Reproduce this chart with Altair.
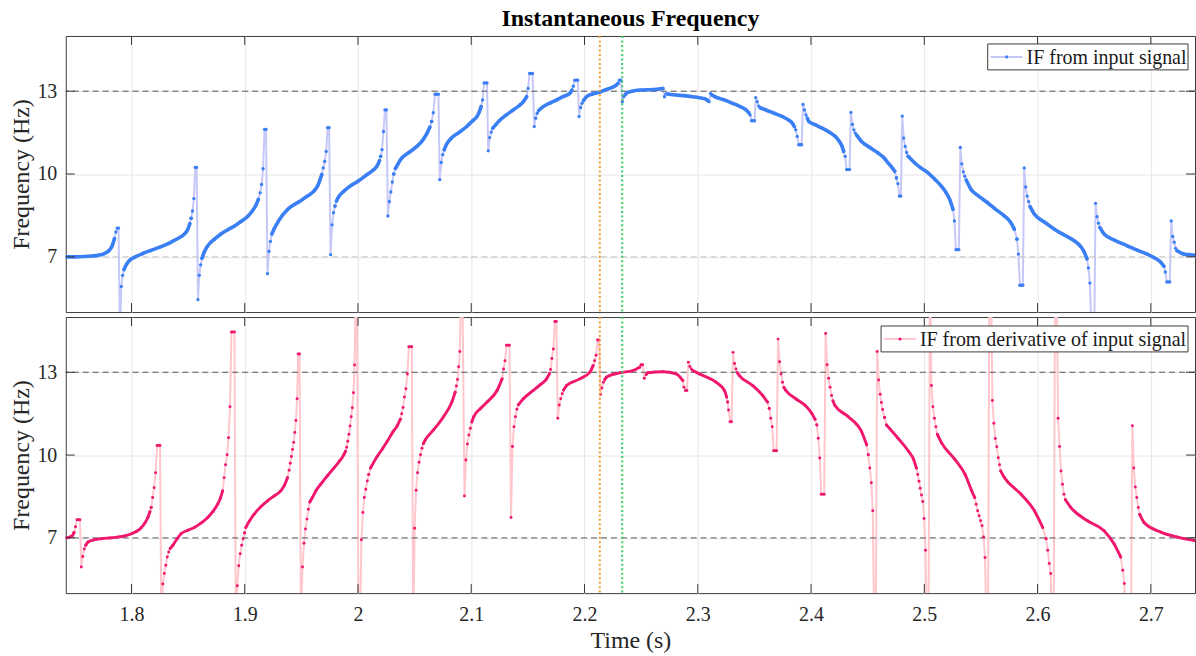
import altair as alt
import pandas as pd

SERIF = "Liberation Serif"
W, H = 1133, 277
T_DOMAIN = [1.742, 2.739]
F_DOMAIN = [5, 15]

time_ticks = [1.8, 1.9, 2.0, 2.1, 2.2, 2.3, 2.4, 2.5, 2.6, 2.7]
freq_ticks = [7, 10, 13]
marker_times = [2.2135, 2.2333]

# IF from the input signal: smooth stretches between wraps (bodies) and the
# individual samples across each wrap (jumps), as (time s, frequency Hz)
top_bodies = [
    [(1.742, 7.00), (1.750, 7.00), (1.758, 7.01), (1.765, 7.03), (1.771, 7.06), (1.776, 7.12), (1.780, 7.22), (1.783, 7.40), (1.785, 7.66)],
    [(1.7934, 6.54), (1.7955, 6.72), (1.798, 6.86), (1.803, 6.99), (1.810, 7.12), (1.817, 7.23), (1.825, 7.35), (1.832, 7.47), (1.838, 7.60), (1.844, 7.74), (1.848, 7.88), (1.850, 8.02), (1.8515, 8.20), (1.8527, 8.40)],
    [(1.8623, 6.95), (1.864, 7.15), (1.867, 7.38), (1.873, 7.63), (1.879, 7.83), (1.885, 7.98), (1.891, 8.12), (1.897, 8.29), (1.903, 8.48), (1.907, 8.68), (1.910, 8.88), (1.912, 9.08)],
    [(1.924, 7.83), (1.926, 8.02), (1.930, 8.31), (1.938, 8.72), (1.949, 9.02), (1.956, 9.22), (1.961, 9.38), (1.9645, 9.58), (1.9665, 9.80), (1.968, 9.98)],
    [(1.9797, 8.84), (1.981, 9.02), (1.983, 9.18), (1.987, 9.36), (1.993, 9.56), (2.000, 9.74), (2.008, 9.98), (2.014, 10.16), (2.017, 10.30), (2.019, 10.48), (2.020, 10.64)],
    [(2.0316, 10.00), (2.033, 10.20), (2.0355, 10.38), (2.0375, 10.52), (2.045, 10.78), (2.052, 11.00), (2.057, 11.22), (2.061, 11.48), (2.0635, 11.70), (2.065, 11.90)],
    [(2.0761, 10.88), (2.078, 11.06), (2.081, 11.24), (2.089, 11.50), (2.096, 11.72), (2.101, 11.92), (2.105, 12.08), (2.107, 12.24), (2.1087, 12.44)],
    [(2.119, 11.66), (2.1215, 11.78), (2.125, 11.94), (2.131, 12.14), (2.137, 12.32), (2.143, 12.50), (2.146, 12.62), (2.1489, 12.80)],
    [(2.1595, 12.30), (2.1635, 12.44), (2.170, 12.58), (2.1753, 12.68), (2.181, 12.80), (2.187, 12.92), (2.1888, 13.04)],
    [(2.1991, 12.66), (2.2017, 12.80), (2.207, 12.90), (2.2134, 12.97), (2.219, 13.06), (2.2251, 13.15), (2.228, 13.22), (2.2295, 13.28)],
    [(2.236, 12.88), (2.2375, 12.94), (2.242, 13.00), (2.2487, 13.04), (2.2604, 13.06), (2.266, 13.08), (2.2692, 13.10)],
    [(2.2735, 12.90), (2.281, 12.86), (2.288, 12.84), (2.2956, 12.80), (2.3044, 12.74), (2.3075, 12.70), (2.3088, 12.66)],
    [(2.3126, 12.86), (2.315, 12.80), (2.3191, 12.74), (2.325, 12.66), (2.3308, 12.56), (2.337, 12.45), (2.3426, 12.32), (2.345, 12.22)],
    [(2.3551, 12.40), (2.3602, 12.32), (2.3675, 12.20), (2.3748, 12.08), (2.380, 11.96), (2.3836, 11.84), (2.3852, 11.72)],
    [(2.3968, 12.02), (2.398, 11.90), (2.404, 11.78), (2.4098, 11.66), (2.416, 11.52), (2.4215, 11.36), (2.425, 11.18), (2.4274, 11.00), (2.4288, 10.82)],
    [(2.4404, 11.40), (2.4446, 11.18), (2.452, 10.96), (2.4592, 10.76), (2.465, 10.56), (2.468, 10.40), (2.471, 10.26), (2.4739, 10.10), (2.4754, 9.86)],
    [(2.4857, 10.64), (2.4916, 10.40), (2.497, 10.22), (2.5033, 10.04), (2.509, 9.82), (2.5151, 9.56), (2.519, 9.34), (2.5224, 9.08), (2.5253, 8.72)],
    [(2.537, 9.78), (2.5413, 9.44), (2.548, 9.20), (2.5559, 8.96), (2.563, 8.72), (2.5707, 8.48), (2.576, 8.26), (2.5795, 8.00), (2.5818, 7.64)],
    [(2.5934, 8.82), (2.5973, 8.54), (2.606, 8.26), (2.6149, 8.00), (2.624, 7.78), (2.6325, 7.58), (2.638, 7.38), (2.6413, 7.17), (2.6436, 6.93)],
    [(2.6551, 8.06), (2.6587, 7.83), (2.668, 7.60), (2.6792, 7.40), (2.688, 7.24), (2.6968, 7.10), (2.703, 6.97), (2.7086, 6.81), (2.7115, 6.66)],
    [(2.7232, 7.22), (2.7291, 7.10), (2.733, 7.08), (2.739, 7.06)],
]
top_jumps = [
    [(1.7862, 7.90), (1.7874, 8.04), (1.7886, 8.04), (1.7898, 3.90), (1.7910, 5.93), (1.7922, 6.33)],
    [(1.8539, 8.66), (1.8551, 9.11), (1.8563, 10.24), (1.8575, 10.24), (1.8587, 5.45), (1.8599, 6.33), (1.8611, 6.71)],
    [(1.9136, 9.32), (1.9149, 9.62), (1.9162, 10.19), (1.9175, 11.62), (1.9188, 11.62), (1.9201, 6.39), (1.9214, 7.20), (1.9227, 7.56)],
    [(1.9693, 10.22), (1.9706, 10.46), (1.9719, 10.82), (1.9732, 11.68), (1.9745, 11.68), (1.9758, 7.08), (1.9771, 8.16), (1.9784, 8.60)],
    [(2.0212, 10.88), (2.0225, 11.54), (2.0238, 12.32), (2.0251, 12.32), (2.0264, 8.48), (2.0277, 9.00), (2.029, 9.35), (2.0303, 9.71)],
    [(2.0665, 12.22), (2.068, 12.89), (2.0695, 12.89), (2.071, 12.89), (2.0722, 9.80), (2.0735, 10.42), (2.0748, 10.70)],
    [(2.110, 12.68), (2.1113, 13.30), (2.1126, 13.30), (2.1139, 13.30), (2.115, 10.84), (2.1163, 11.32), (2.1176, 11.52)],
    [(2.1502, 13.10), (2.1515, 13.64), (2.1528, 13.64), (2.1541, 13.64), (2.1556, 11.72), (2.1569, 12.02), (2.1582, 12.20)],
    [(2.1901, 13.18), (2.1914, 13.40), (2.1927, 13.40), (2.194, 13.40), (2.1952, 12.08), (2.1965, 12.41), (2.1978, 12.56)],
    [(2.2308, 13.40), (2.2321, 13.40), (2.2334, 12.62), (2.2347, 12.80)],
    [(2.2706, 12.80), (2.2719, 12.90)],
    [(2.310, 12.62), (2.3113, 12.92)],
    [(2.3462, 12.14), (2.3475, 11.93), (2.3488, 11.93), (2.3501, 11.93), (2.3512, 12.77), (2.3525, 12.62), (2.3538, 12.46)],
    [(2.3865, 11.60), (2.3878, 11.36), (2.3891, 11.06), (2.3904, 11.06), (2.3917, 11.06), (2.3929, 12.52), (2.3942, 12.32), (2.3955, 12.14)],
    [(2.4301, 10.64), (2.4314, 10.16), (2.4327, 10.16), (2.434, 10.16), (2.4352, 12.23), (2.4365, 11.80), (2.4378, 11.60), (2.4391, 11.48)],
    [(2.4767, 9.65), (2.478, 9.20), (2.4793, 9.20), (2.4805, 12.10), (2.4818, 11.30), (2.4831, 11.00), (2.4844, 10.78)],
    [(2.5266, 8.30), (2.5279, 7.26), (2.5292, 7.26), (2.5305, 7.26), (2.5318, 10.96), (2.5331, 10.37), (2.5344, 10.08), (2.5357, 9.92)],
    [(2.5831, 7.10), (2.5844, 5.97), (2.5857, 5.97), (2.587, 5.97), (2.5882, 10.22), (2.5895, 9.53), (2.5908, 9.20), (2.5921, 9.00)],
    [(2.6449, 6.60), (2.6462, 6.05), (2.6475, 4.40), (2.6488, 4.40), (2.6501, 4.40), (2.6512, 8.94), (2.6525, 8.46), (2.6538, 8.22)],
    [(2.7128, 6.45), (2.7141, 6.09), (2.7154, 6.09), (2.7167, 6.09), (2.718, 8.30), (2.7193, 7.74), (2.7206, 7.53), (2.7219, 7.31)],
]

# IF from the derivative of the input signal
bot_bodies = [
    [(1.742, 7.00), (1.744, 7.01), (1.746, 7.04), (1.748, 7.09), (1.7493, 7.20)],
    [(1.7596, 6.73), (1.7617, 6.85), (1.767, 6.93), (1.7734, 6.97), (1.781, 7.00), (1.7881, 7.03), (1.795, 7.08), (1.800, 7.15), (1.805, 7.25), (1.8088, 7.38), (1.812, 7.55), (1.8145, 7.74), (1.8163, 7.95), (1.8174, 8.10)],
    [(1.8342, 6.62), (1.8365, 6.73), (1.840, 6.95), (1.8438, 7.15), (1.850, 7.28), (1.8555, 7.38), (1.862, 7.55), (1.8673, 7.74), (1.872, 7.96), (1.8761, 8.22), (1.8785, 8.44), (1.8805, 8.70)],
    [(1.8999, 7.18), (1.901, 7.38), (1.904, 7.60), (1.9083, 7.86), (1.914, 8.12), (1.9201, 8.34), (1.926, 8.52), (1.9318, 8.70), (1.935, 8.90), (1.9377, 9.18)],
    [(1.9575, 8.30), (1.9597, 8.46), (1.963, 8.72), (1.967, 8.94), (1.973, 9.25), (1.9787, 9.53), (1.984, 9.80), (1.9875, 10.01), (1.989, 10.14)],
    [(2.0095, 9.30), (2.011, 9.53), (2.0169, 9.95), (2.0215, 10.22), (2.0257, 10.49), (2.031, 10.85), (2.0345, 11.05), (2.0374, 11.30)],
    [(2.0578, 10.42), (2.0594, 10.55), (2.0667, 10.91), (2.0755, 11.39), (2.0829, 11.92), (2.0858, 12.28)],
    [(2.1005, 11.20), (2.1022, 11.39), (2.108, 11.68), (2.114, 11.92), (2.1228, 12.34), (2.1272, 12.76)],
    [(2.1416, 11.82), (2.146, 12.04), (2.1548, 12.34), (2.161, 12.55), (2.1665, 12.76), (2.169, 12.95)],
    [(2.1816, 12.36), (2.1842, 12.52), (2.1959, 12.76), (2.2047, 13.00), (2.2076, 13.24)],
    [(2.218, 12.74), (2.2193, 12.82), (2.231, 12.98), (2.2428, 13.06), (2.2487, 13.18)],
    [(2.2545, 12.92), (2.2559, 12.98), (2.2692, 13.02), (2.281, 12.94), (2.2868, 12.70)],
    [(2.2956, 13.06), (2.3014, 12.94), (2.3161, 12.64), (2.3235, 12.34), (2.3255, 12.10), (2.3264, 11.92)],
    [(2.335, 12.98), (2.3367, 12.88), (2.3484, 12.52), (2.3572, 12.16), (2.3615, 11.92), (2.3631, 11.69)],
    [(2.3761, 12.45), (2.3778, 12.34), (2.3865, 12.04), (2.3948, 11.80), (2.4007, 11.51), (2.4035, 11.30), (2.4051, 11.09)],
    [(2.4194, 11.96), (2.4211, 11.80), (2.4329, 11.39), (2.4446, 10.85), (2.4491, 10.37), (2.4505, 10.01)],
    [(2.4649, 11.36), (2.4666, 11.09), (2.4768, 10.61), (2.4862, 10.13), (2.4905, 9.85), (2.493, 9.53)],
    [(2.5115, 10.75), (2.5151, 10.45), (2.5268, 9.85), (2.536, 9.30), (2.5419, 8.70), (2.5445, 8.46)],
    [(2.5675, 9.42), (2.5708, 9.18), (2.5855, 8.58), (2.5972, 7.98), (2.6045, 7.38), (2.6075, 6.97)],
    [(2.6246, 8.38), (2.6294, 8.10), (2.644, 7.62), (2.6587, 7.26), (2.6675, 6.79), (2.6734, 6.31)],
    [(2.6902, 7.85), (2.694, 7.56), (2.7087, 7.21), (2.7233, 7.03), (2.739, 6.90)],
]
bot_jumps = [
    [(1.7506, 7.40), (1.7519, 7.66), (1.7532, 7.66), (1.7545, 7.66), (1.7557, 5.95), (1.757, 6.33), (1.7583, 6.60)],
    [(1.8187, 8.46), (1.820, 8.82), (1.8213, 9.36), (1.8226, 10.35), (1.8239, 10.35), (1.8252, 10.35), (1.8264, 3.80), (1.8277, 5.33), (1.829, 5.71), (1.8303, 6.01), (1.8316, 6.31), (1.8329, 6.49)],
    [(1.8818, 9.18), (1.8831, 9.65), (1.8844, 10.01), (1.8857, 10.63), (1.887, 11.75), (1.8883, 14.46), (1.8896, 14.46), (1.8909, 14.46), (1.8921, 3.80), (1.8934, 5.27), (1.8947, 5.99), (1.896, 6.43), (1.8973, 6.73), (1.8986, 6.97)],
    [(1.9392, 9.45), (1.9402, 9.70), (1.9412, 9.95), (1.9422, 10.20), (1.9432, 10.46), (1.9442, 10.82), (1.9452, 11.25), (1.9462, 12.04), (1.9472, 13.66), (1.9484, 13.66), (1.9496, 3.80), (1.951, 5.95), (1.9523, 6.81), (1.9536, 7.32), (1.9549, 7.68), (1.9562, 8.04)],
    [(1.990, 10.28), (1.991, 10.50), (1.992, 10.75), (1.993, 11.05), (1.994, 11.39), (1.995, 11.71), (1.996, 12.26), (1.997, 13.26), (1.998, 16.00), (1.999, 16.00), (2.0005, 3.50), (2.0017, 3.50), (2.003, 6.93), (2.0043, 7.92), (2.0056, 8.46), (2.0069, 8.76), (2.0082, 9.06)],
    [(2.0386, 11.50), (2.0398, 11.72), (2.041, 12.10), (2.0423, 12.40), (2.0436, 12.94), (2.0449, 13.92), (2.0462, 13.92), (2.0475, 13.92), (2.0488, 3.50), (2.050, 7.35), (2.0513, 8.73), (2.0526, 9.36), (2.0539, 9.74), (2.0552, 10.01), (2.0565, 10.25)],
    [(2.0869, 12.50), (2.0879, 12.74), (2.0889, 13.20), (2.0899, 13.75), (2.0909, 16.00), (2.0922, 16.00), (2.094, 8.52), (2.0953, 9.82), (2.0966, 10.40), (2.0979, 10.73), (2.0992, 10.97)],
    [(2.1285, 13.12), (2.1298, 13.42), (2.1311, 13.98), (2.1324, 13.98), (2.1337, 13.98), (2.1351, 7.74), (2.1364, 10.31), (2.1377, 11.03), (2.139, 11.39), (2.1403, 11.66)],
    [(2.1700, 13.10), (2.1712, 13.50), (2.1725, 13.84), (2.1738, 14.84), (2.1751, 14.84), (2.1764, 11.33), (2.1777, 11.81), (2.179, 12.04), (2.1803, 12.22)],
    [(2.2089, 13.42), (2.2102, 13.62), (2.2115, 14.17), (2.2128, 14.17), (2.2141, 12.19), (2.2154, 12.43), (2.2167, 12.64)],
    [(2.2498, 13.27), (2.2513, 13.27), (2.2528, 12.78)],
    [(2.2878, 12.46), (2.2891, 12.34), (2.2904, 12.34), (2.2917, 13.36), (2.293, 13.21), (2.2943, 13.12)],
    [(2.3272, 11.63), (2.3285, 11.21), (2.3298, 11.21), (2.3311, 13.72), (2.3324, 13.32), (2.3337, 13.12)],
    [(2.3644, 11.33), (2.3657, 11.03), (2.367, 10.16), (2.3683, 10.16), (2.3696, 10.16), (2.3709, 14.20), (2.3722, 13.38), (2.3735, 12.94), (2.3748, 12.64)],
    [(2.4064, 10.61), (2.4077, 9.89), (2.409, 8.58), (2.4103, 8.58), (2.4116, 8.58), (2.4129, 14.40), (2.4142, 13.27), (2.4155, 12.78), (2.4168, 12.46), (2.4181, 12.16)],
    [(2.4519, 9.53), (2.4532, 9.00), (2.4545, 7.98), (2.4558, 3.50), (2.4571, 3.50), (2.4584, 13.75), (2.4597, 12.72), (2.461, 12.20), (2.4621, 11.90), (2.4632, 11.65)],
    [(2.4942, 9.30), (2.4953, 9.05), (2.4964, 8.80), (2.4975, 8.55), (2.4986, 8.32), (2.4998, 7.70), (2.5011, 6.55), (2.5024, 3.50), (2.5037, 3.50), (2.505, 17.00), (2.5063, 12.52), (2.5076, 11.75), (2.5089, 11.33), (2.5102, 11.03)],
    [(2.5458, 8.22), (2.5471, 7.98), (2.5484, 7.80), (2.5497, 7.62), (2.551, 7.44), (2.5523, 7.03), (2.5536, 6.29), (2.5549, 3.50), (2.5562, 3.50), (2.5575, 17.00), (2.5588, 17.00), (2.5601, 11.98), (2.5614, 11.15), (2.5627, 10.60), (2.5640, 10.30), (2.5653, 9.90), (2.5664, 9.65)],
    [(2.609, 6.55), (2.6103, 6.07), (2.6116, 5.71), (2.6129, 3.50), (2.6142, 3.50), (2.6155, 17.00), (2.6168, 17.00), (2.6181, 11.33), (2.6194, 10.31), (2.6207, 9.42), (2.622, 8.94), (2.6233, 8.58)],
    [(2.6752, 5.83), (2.6766, 5.35), (2.6779, 3.50), (2.6794, 3.50), (2.6809, 3.50), (2.6824, 3.50), (2.6837, 11.06), (2.685, 9.53), (2.6863, 8.84), (2.6876, 8.46), (2.6889, 8.10)],
]

# samples closer together than this slope blend into a solid band
DENSE_SLOPE = 130.0


def samples(bodies, jumps):
    rows = []
    run = 0
    for seg in bodies:
        run += 1
        for k, (t, f) in enumerate(seg):
            if k > 0:
                t0, f0 = seg[k - 1]
                if abs(f - f0) / (t - t0) > DENSE_SLOPE:
                    run += 1
            rows.append({"t": t, "f": f, "run": run, "part": "body"})
    for seg in jumps:
        rows += [{"t": t, "f": f, "run": -1, "part": "jump"} for t, f in seg]
    return pd.DataFrame(rows).sort_values("t").reset_index(drop=True)


x_scale = alt.Scale(domain=T_DOMAIN, nice=False, zero=False)
y_scale = alt.Scale(domain=F_DOMAIN, nice=False, zero=False)


def panel(df, dot_color, trace_color, band_width, dot_size, label, box,
          low_ref_color, show_time_axis):
    x_axis = alt.Axis(
        values=time_ticks, format="~g", grid=True, gridColor="#e6e6e6",
        ticks=False, tickSize=0, domain=False, labels=show_time_axis,
        labelPadding=11, labelFontSize=20, titleFontSize=24, titlePadding=5,
        labelFont=SERIF, titleFont=SERIF,
        title="Time (s)" if show_time_axis else "",
    )
    y_axis = alt.Axis(
        values=freq_ticks, grid=True, gridColor="#e6e6e6", ticks=False,
        tickSize=0, domain=False, labelPadding=9, labelFontSize=20,
        titleFontSize=24, titlePadding=3, labelFont=SERIF, titleFont=SERIF,
        title="Frequency (Hz)",
    )
    X = alt.X("t:Q", scale=x_scale, axis=x_axis)
    Y = alt.Y("f:Q", scale=y_scale, axis=y_axis)
    base = alt.Chart(df)

    trace = base.mark_line(clip=True, color=trace_color, strokeWidth=2).encode(
        x=X, y=Y, order="t:Q"
    )
    band = base.transform_filter(alt.datum.part == "body").mark_line(
        clip=True, color=dot_color, strokeWidth=band_width, interpolate="monotone",
        strokeCap="round", strokeJoin="round",
    ).encode(x=X, y=Y, detail="run:N", order="t:Q")
    dots = base.mark_circle(clip=True, color=dot_color, size=dot_size,
                            opacity=1).encode(x=X, y=Y)

    hi_ref = alt.Chart(pd.DataFrame({"f": [13]})).mark_rule(
        color="#555555", strokeWidth=1, strokeDash=[6, 4]
    ).encode(y=Y)
    lo_ref = alt.Chart(pd.DataFrame({"f": [7]})).mark_rule(
        color=low_ref_color, strokeWidth=1, strokeDash=[6, 4]
    ).encode(y=Y)

    marks_t = []
    for t, col in zip(marker_times, ["#f59a2c", "#3dc95e"]):
        marks_t.append(
            alt.Chart(pd.DataFrame({"t": [t]})).mark_rule(
                color=col, strokeWidth=2, strokeDash=[2, 2.5]
            ).encode(x=X)
        )

    tt = alt.Chart(pd.DataFrame({"t": time_ticks}))
    ft = alt.Chart(pd.DataFrame({"f": freq_ticks}))
    tick_style = dict(color="#333333", strokeWidth=1)
    ticks = [
        tt.mark_rule(**tick_style).encode(x=X, y=alt.value(0), y2=alt.value(9)),
        tt.mark_rule(**tick_style).encode(x=X, y=alt.value(H - 9), y2=alt.value(H)),
        ft.mark_rule(**tick_style).encode(y=Y, x=alt.value(0), x2=alt.value(9)),
        ft.mark_rule(**tick_style).encode(y=Y, x=alt.value(W - 9), x2=alt.value(W)),
    ]

    bx0, bx1, by0, by1, lx0, lx1, tx = box
    ly = (by0 + by1) / 2
    lg = alt.Chart(pd.DataFrame({"label": [label]}))
    legend = [
        lg.mark_rect(fill="white", stroke="#3c3c3c", strokeWidth=1).encode(
            x=alt.value(bx0), x2=alt.value(bx1), y=alt.value(by0), y2=alt.value(by1)
        ),
        lg.mark_rule(color=trace_color, strokeWidth=2).encode(
            x=alt.value(lx0), x2=alt.value(lx1), y=alt.value(ly)
        ),
        lg.mark_circle(color=dot_color, size=10, opacity=1).encode(
            x=alt.value((lx0 + lx1) / 2), y=alt.value(ly)
        ),
        lg.mark_text(align="left", baseline="middle", font=SERIF, fontSize=20,
                     color="#1a1a1a").encode(
            x=alt.value(tx), y=alt.value(ly + 1), text="label:N"
        ),
    ]

    return alt.layer(
        trace, lo_ref, hi_ref, band, dots, *marks_t, *ticks, *legend
    ).properties(width=W, height=H)


top_df = samples(top_bodies, top_jumps)
bot_df = samples(bot_bodies, bot_jumps)

top = panel(top_df, "#3a7ff4", "#c6c8f8", 3.6, 11, "IF from input signal",
            (925, 1126, 8, 34, 928, 960, 964), "#c4c4c4", False).properties(
    title=alt.TitleParams(
        "Instantaneous Frequency", font=SERIF, fontSize=24, fontWeight="bold",
        color="#000000", anchor="middle", frame="group", offset=4,
    )
)
bottom = panel(bot_df, "#f0176f", "#ffc6cc", 2.9, 9,
               "IF from derivative of input signal",
               (818, 1126, 9, 35, 821, 853, 857), "#555555", True)

chart = alt.vconcat(top, bottom, spacing=1).properties(
    padding={"left": 9, "top": 5, "right": 0, "bottom": 0},
    background="white",
).configure_view(
    stroke="#3c3c3c", strokeWidth=1
).configure_axis(
    labelFont=SERIF, titleFont=SERIF, labelColor="#262626", titleColor="#262626",
    titleFontWeight="normal",
)

chart.save("out.html", embed_options={"renderer": "svg", "actions": False})
